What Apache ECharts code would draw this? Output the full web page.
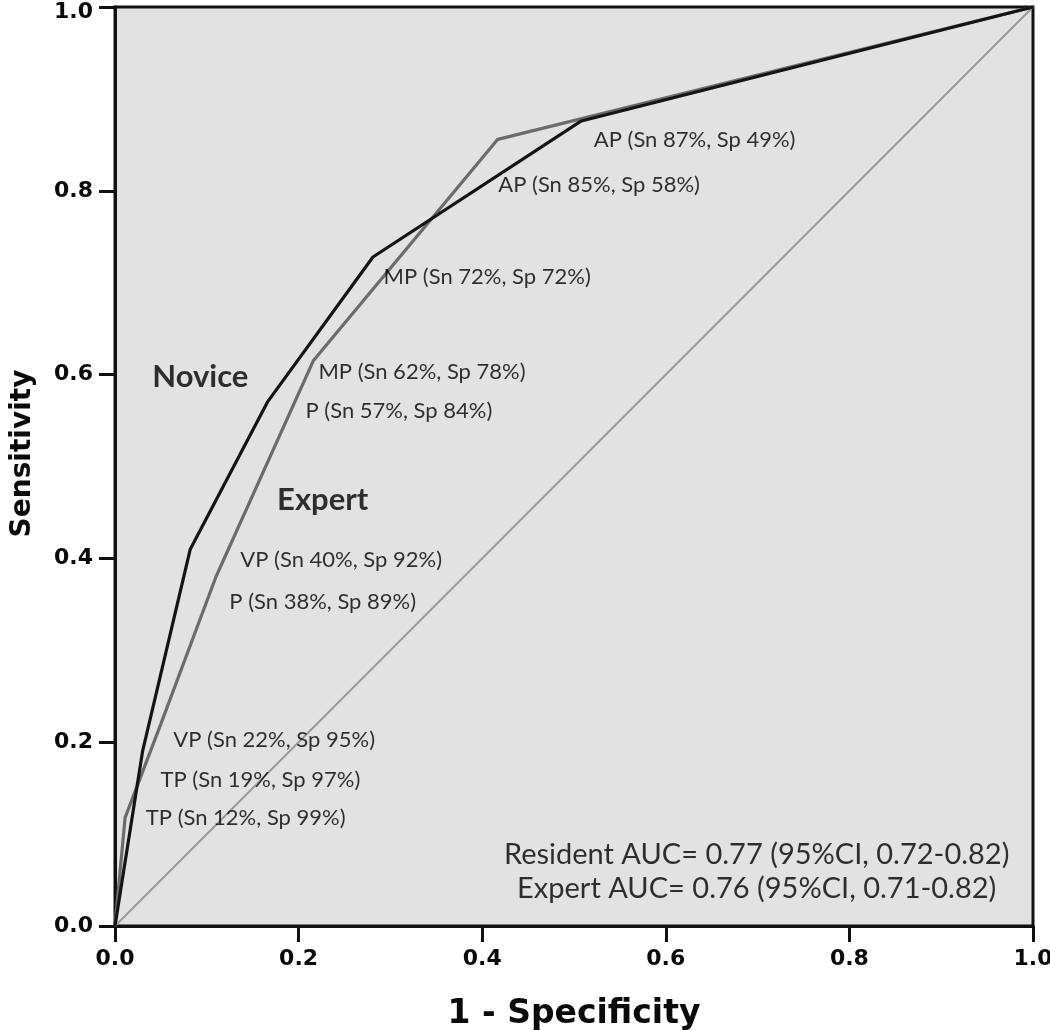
<!DOCTYPE html>
<html>
<head>
<meta charset="utf-8">
<script src="https://cdn.jsdelivr.net/npm/echarts@6/dist/echarts.min.js"></script>
<style>html,body{margin:0;padding:0;background:#fff}#c{width:1050px;height:1031px}</style>
</head>
<body>
<div id="c"></div>
<script>
// ROC data: [1 - specificity, sensitivity]
var novicePoints = [[0,0],[0.03,0.19],[0.082,0.41],[0.166,0.57],[0.281,0.728],[0.508,0.876],[1,1]];
var expertPoints = [[0,0],[0.011,0.118],[0.05,0.22],[0.11,0.38],[0.216,0.615],[0.417,0.856],[1,1]];
var chancePoints = [[0,0],[1,1]];
var xTicks = [0,0.2,0.4,0.6,0.8,1.0];
var yTicks = [0,0.2,0.4,0.6,0.8,1.0];
// annotation anchors in data coordinates: [x, y, text]
var cutoffLabels = [
  [0.521,0.855,'AP (Sn 87%, Sp 49%)'],
  [0.417,0.806,'AP (Sn 85%, Sp 58%)'],
  [0.292,0.706,'MP (Sn 72%, Sp 72%)'],
  [0.221,0.603,'MP (Sn 62%, Sp 78%)'],
  [0.207,0.560,'P (Sn 57%, Sp 84%)'],
  [0.136,0.398,'VP (Sn 40%, Sp 92%)'],
  [0.124,0.353,'P (Sn 38%, Sp 89%)'],
  [0.063,0.202,'VP (Sn 22%, Sp 95%)'],
  [0.049,0.159,'TP (Sn 19%, Sp 97%)'],
  [0.033,0.118,'TP (Sn 12%, Sp 99%)']
];
var curveNames = [
  [0.040,0.597,'Novice'],
  [0.176,0.464,'Expert']
];
var aucLines = [
  [0.699,0.078,'Resident AUC= 0.77 (95%CI, 0.72-0.82)'],
  [0.699,0.041,'Expert AUC= 0.76 (95%CI, 0.71-0.82)']
];

var chart = echarts.init(document.getElementById('c'), null, {renderer:'canvas'});
var tickFont = {fontFamily:'DejaVu Sans', fontWeight:'bold', fontSize:22, color:'#0a0a0a'};
function annot(data, style, align) {
  return {
    type:'scatter', data:data, symbolSize:1, silent:true, z:10,
    itemStyle:{color:'rgba(0,0,0,0)'},
    label:{show:true, position: align==='center' ? 'inside' : 'right', distance:0,
      align:align, verticalAlign:'middle',
      formatter:function(p){return p.data[2];},
      fontFamily:style.fontFamily, fontWeight:style.fontWeight, fontSize:style.fontSize, color:'#000'}
  };
}
var topRich = {top:Object.assign({padding:[10,0,0,0]}, tickFont)};
chart.setOption({
  animation:false,
  backgroundColor:'#ffffff',
  grid:{left:115, right:17, top:7, bottom:105, outerBoundsMode:'none', containLabel:false,
    show:true, backgroundColor:'#e2e2e2', borderColor:'#111', borderWidth:3},
  xAxis:{
    type:'value', min:0, max:1, interval:0.2,
    name:'1 - Specificity', nameLocation:'middle', nameGap:72,
    nameTextStyle:{fontFamily:'DejaVu Sans', fontWeight:'bold', fontSize:33, color:'#0a0a0a'},
    axisLine:{show:true, lineStyle:{color:'#111', width:3}},
    axisTick:{show:true, length:16, lineStyle:{color:'#111', width:3}},
    axisLabel:Object.assign({margin:22, formatter:function(v){return v.toFixed(1);}}, tickFont),
    splitLine:{show:false}
  },
  yAxis:{
    type:'value', min:0, max:1, interval:0.2,
    name:'Sensitivity', nameLocation:'middle', nameGap:78,
    nameTextStyle:{fontFamily:'DejaVu Sans', fontWeight:'bold', fontSize:28, color:'#0a0a0a', padding:[0,0,0,26]},
    axisLine:{show:true, lineStyle:{color:'#111', width:3}},
    axisTick:{show:true, length:16, lineStyle:{color:'#111', width:3}},
    axisLabel:Object.assign({margin:22, rich:topRich, formatter:function(v){
      return v >= 1 ? '{top|' + v.toFixed(1) + '}' : v.toFixed(1);}}, tickFont),
    splitLine:{show:false}
  },
  series:[
    {type:'line', data:chancePoints, symbol:'none', lineStyle:{color:'#979797', width:1.8}, silent:true, z:2},
    {type:'line', data:expertPoints, symbol:'none', lineStyle:{color:'#6b6b6b', width:3.2}, silent:true, z:3},
    {type:'line', data:novicePoints, symbol:'none', lineStyle:{color:'#141414', width:3.2}, silent:true, z:4},
    annot(cutoffLabels, {fontFamily:'Lato', fontWeight:'normal', fontSize:22}, 'left'),
    annot(curveNames, {fontFamily:'Lato', fontWeight:'bold', fontSize:31}, 'left'),
    annot(aucLines, {fontFamily:'Lato', fontWeight:'normal', fontSize:29}, 'center')
  ]
});
</script>
</body>
</html>
